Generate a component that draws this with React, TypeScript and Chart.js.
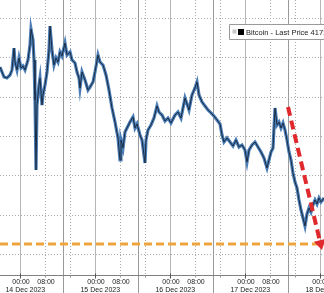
import React, { useEffect, useRef } from "react";
import { Chart, registerables } from "chart.js";

Chart.register(...registerables);

// hours since 14 Dec 2023 00:00
const hours = [
  -6.4, -5.76, -5.12, -4.16, -3.2, -2.56, -1.92, -1.6, -0.96, -0.32,
  0.32, 0.96, 1.6, 2.56, 3.2, 3.52, 4.16, 4.48, 4.8, 5.12,
  5.44, 6.08, 6.4, 7.04, 7.36, 8.0, 8.64, 9.28, 9.6, 10.24,
  10.88, 11.52, 12.16, 12.8, 13.44, 14.4, 15.04, 16.0, 16.64, 17.6,
  18.24, 18.88, 19.2, 19.84, 20.8, 21.76, 22.4, 23.36, 24.0, 24.96,
  25.6, 26.56, 27.52, 28.48, 29.44, 30.4, 31.36, 32.0, 32.32, 32.96,
  33.6, 34.24, 35.2, 36.16, 36.8, 37.44, 38.4, 39.04, 40.0, 40.32,
  40.96, 41.92, 42.88, 43.84, 44.48, 45.44, 46.4, 47.36, 48.32, 49.6,
  50.56, 51.52, 52.8, 53.44, 54.08, 55.04, 56.0, 56.64, 57.28, 58.24,
  59.2, 60.16, 61.12, 62.08, 63.04, 64.0, 64.64, 65.28, 66.24, 67.2,
  68.16, 69.12, 70.08, 71.04, 72.0, 72.64, 73.28, 74.24, 75.2, 76.16,
  77.12, 78.08, 79.04, 79.68, 80.32, 80.96, 81.6, 82.24, 82.88, 83.52,
  84.16, 84.8, 85.44, 86.08, 86.72, 87.36, 88.0, 88.64, 89.28, 89.92,
  90.56, 91.2, 91.84, 92.48, 93.12, 93.76, 94.4, 95.04, 95.68, 96.32,
  97.28,
];

// Bitcoin last price
const prices = [
  43377, 43313, 43250, 43237, 43275, 43339, 43618, 43440, 43339, 43491,
  43364, 43389, 43339, 43466, 43657, 43860, 43720, 43466, 42957, 42067,
  42893, 43148, 43237, 42893, 43021, 43148, 43313, 43593, 43898, 43593,
  43402, 43491, 43440, 43568, 43517, 43682, 43529, 43568, 43466, 43428,
  43313, 43237, 43110, 43313, 43211, 43084, 43122, 43186, 43313, 43529,
  43440, 43402, 43275, 43084, 42855, 42677, 42474, 42194, 42448, 42346,
  42550, 42601, 42677, 42741, 42601, 42652, 42512, 42448, 42156, 42448,
  42575, 42639, 42728, 42881, 42804, 42766, 42690, 42728, 42664, 42766,
  42804, 42728, 42982, 42906, 42830, 43021, 43110, 43186, 43021, 42932,
  42881, 42830, 42792, 42753, 42703, 42652, 42512, 42423, 42474, 42423,
  42372, 42448, 42359, 42385, 42321, 42168, 42321, 42385, 42423, 42359,
  42296, 42219, 42092, 42194, 42296, 42346, 42855, 42639, 42677, 42601,
  42664, 42575, 42448, 42296, 42194, 42028, 41914, 41838, 41685, 41558,
  41456, 41354, 41507, 41583, 41532, 41621, 41685, 41634, 41710, 41660,
  41710,
];

const yGridValues = [41000, 41500, 42000, 42500, 43000, 43500, 44000];
const dayStartHours = [0, 24, 48, 72, 96];
const dayLabels = ["14 Dec 2023", "15 Dec 2023", "16 Dec 2023", "17 Dec 2023", "18 Dec 2023"];
const timeTickOffsets = [0, 8];
const timeTickLabels = ["00:00", "08:00"];
const minorGridHours = [-8, 8, 16, 32, 40, 56, 64, 80, 88];
const separatorHours = [13.76, 37.76, 61.76, 85.76];
const supportLevel = 41125;
const arrowStart = { x: 85.76, y: 42868 };
const arrowEnd = { x: 96.64, y: 41049 };
const legendLabel = "Bitcoin - Last Price 41710";

const X_MIN = -6.4;
const X_MAX = 97.28;
const Y_MIN = 40731;
const Y_MAX = 44229;

const FONT = "Liberation Sans, Arial, sans-serif";

const decorPlugin = {
  id: "decor",
  beforeDatasetsDraw(chart: any) {
    const { ctx, chartArea, scales } = chart;
    const xs = scales.x;
    const ys = scales.y;
    const H = chart.height;
    ctx.save();
    ctx.strokeStyle = "#a9a9a9";
    ctx.lineWidth = 1;
    ctx.setLineDash([1, 2]);
    yGridValues.forEach((v) => {
      const y = Math.round(ys.getPixelForValue(v)) + 0.5;
      ctx.beginPath();
      ctx.moveTo(chartArea.left, y);
      ctx.lineTo(chartArea.right, y);
      ctx.stroke();
    });
    minorGridHours.forEach((h) => {
      const x = Math.round(xs.getPixelForValue(h)) + 0.5;
      ctx.beginPath();
      ctx.moveTo(x, chartArea.top);
      ctx.lineTo(x, chartArea.bottom);
      ctx.stroke();
    });
    ctx.setLineDash([]);
    ctx.strokeStyle = "#b5b5b5";
    dayStartHours.forEach((h) => {
      const x = Math.round(xs.getPixelForValue(h)) + 0.5;
      ctx.beginPath();
      ctx.moveTo(x, chartArea.top);
      ctx.lineTo(x, chartArea.bottom);
      ctx.stroke();
    });
    ctx.strokeStyle = "#9a9a9a";
    separatorHours.forEach((h) => {
      const x = Math.round(xs.getPixelForValue(h)) + 0.5;
      ctx.beginPath();
      ctx.moveTo(x, chartArea.top);
      ctx.lineTo(x, H);
      ctx.stroke();
    });
    const ay = Math.round(chartArea.bottom) + 0.5;
    ctx.strokeStyle = "#808080";
    ctx.beginPath();
    ctx.moveTo(chartArea.left, ay);
    ctx.lineTo(chartArea.right, ay);
    ctx.stroke();
    ctx.strokeStyle = "#555";
    dayStartHours.forEach((h) => {
      const x = Math.round(xs.getPixelForValue(h)) + 0.5;
      ctx.beginPath();
      ctx.moveTo(x, ay - 2);
      ctx.lineTo(x, ay + 3);
      ctx.stroke();
    });
    ctx.strokeStyle = "#999";
    minorGridHours.forEach((h) => {
      const x = Math.round(xs.getPixelForValue(h)) + 0.5;
      ctx.beginPath();
      ctx.moveTo(x, ay);
      ctx.lineTo(x, ay + 2);
      ctx.stroke();
    });
    ctx.fillStyle = "#222";
    ctx.font = `7px ${FONT}`;
    ctx.textAlign = "center";
    ctx.textBaseline = "middle";
    dayStartHours.forEach((d, i) => {
      timeTickOffsets.forEach((o, j) => {
        const x = xs.getPixelForValue(d + o) + 1;
        ctx.fillText(timeTickLabels[j], x, ay + 7);
      });
      ctx.fillText(dayLabels[i], xs.getPixelForValue(d + 1.7), ay + 14.5);
    });
    ctx.restore();
  },
  afterDatasetsDraw(chart: any) {
    const { ctx, chartArea, scales } = chart;
    const xs = scales.x;
    const ys = scales.y;
    ctx.save();
    const sy = ys.getPixelForValue(supportLevel);
    ctx.strokeStyle = "#eea43f";
    ctx.lineWidth = 3;
    ctx.setLineDash([8, 4]);
    ctx.beginPath();
    ctx.moveTo(chartArea.left, sy);
    ctx.lineTo(chartArea.right, sy);
    ctx.stroke();
    const x1 = xs.getPixelForValue(arrowStart.x);
    const y1 = ys.getPixelForValue(arrowStart.y);
    const x2 = xs.getPixelForValue(arrowEnd.x);
    const y2 = ys.getPixelForValue(arrowEnd.y);
    const ang = Math.atan2(y2 - y1, x2 - x1);
    const headLen = 10;
    const bx = x2 - headLen * Math.cos(ang);
    const by = y2 - headLen * Math.sin(ang);
    ctx.strokeStyle = "#e0292c";
    ctx.lineWidth = 4;
    ctx.setLineDash([9, 5]);
    ctx.beginPath();
    ctx.moveTo(x1, y1);
    ctx.lineTo(bx, by);
    ctx.stroke();
    ctx.setLineDash([]);
    ctx.fillStyle = "#e0292c";
    ctx.beginPath();
    ctx.moveTo(x2, y2);
    ctx.lineTo(bx + 6 * Math.sin(ang), by - 6 * Math.cos(ang));
    ctx.lineTo(bx - 6 * Math.sin(ang), by + 6 * Math.cos(ang));
    ctx.closePath();
    ctx.fill();
    const lx = 229.5;
    const ly = 24.5;
    ctx.fillStyle = "#ffffff";
    ctx.strokeStyle = "#9a9a9a";
    ctx.lineWidth = 1;
    ctx.beginPath();
    ctx.rect(lx, ly, 110, 15);
    ctx.fill();
    ctx.stroke();
    ctx.fillStyle = "#c8c8c8";
    ctx.fillRect(lx + 3, ly + 5, 4, 4);
    ctx.fillStyle = "#000";
    ctx.fillRect(lx + 8.5, ly + 4.5, 6, 6);
    ctx.fillStyle = "#222";
    ctx.font = `7.5px ${FONT}`;
    ctx.textAlign = "left";
    ctx.textBaseline = "middle";
    ctx.fillText(legendLabel, lx + 16.5, ly + 8);
    ctx.restore();
  },
};

export default function App() {
  const ref = useRef<HTMLCanvasElement | null>(null);
  useEffect(() => {
    document.body.style.margin = "0";
    const canvas = ref.current;
    if (!canvas) return;
    const points = hours.map((h, i) => ({ x: h, y: prices[i] }));
    const chart = new Chart(canvas, {
      type: "line",
      data: {
        datasets: [
          {
            data: points,
            borderColor: "#1b2c42",
            borderWidth: 1,
            pointRadius: 0,
            tension: 0,
            order: 0,
          },
          {
            data: points,
            borderColor: "#4a7db6",
            borderWidth: 3.2,
            pointRadius: 0,
            tension: 0,
            order: 1,
          },
        ],
      },
      options: {
        animation: false,
        responsive: false,
        devicePixelRatio: 1,
        layout: { padding: { left: 0, right: 0, top: 0, bottom: 18 } },
        plugins: { legend: { display: false }, tooltip: { enabled: false } },
        events: [],
        scales: {
          x: { type: "linear", min: X_MIN, max: X_MAX, display: false },
          y: { type: "linear", min: Y_MIN, max: Y_MAX, display: false },
        },
      },
      plugins: [decorPlugin],
    } as any);
    return () => chart.destroy();
  }, []);
  return (
    <div style={{ width: 324, height: 293, background: "#fff" }}>
      <canvas ref={ref} width={324} height={293} style={{ display: "block" }} />
    </div>
  );
}
